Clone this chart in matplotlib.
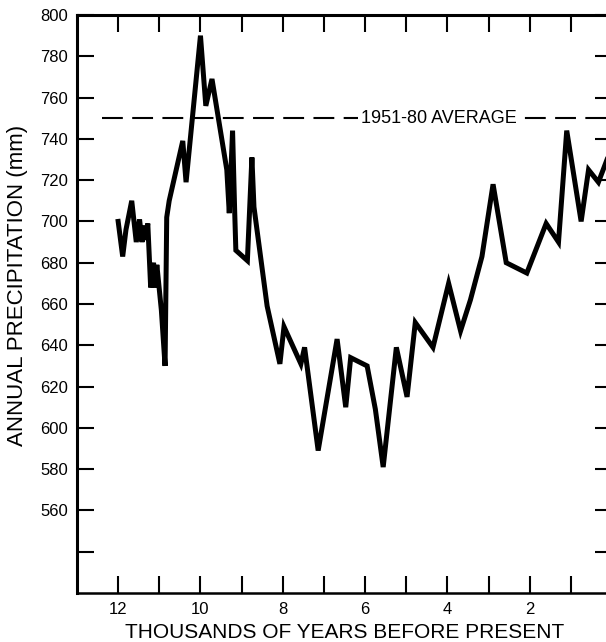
"""
Holocene annual precipitation reconstruction
"""

#---------------------------------------------------------------------------------------------------
# Import Modules
#---------------------------------------------------------------------------------------------------

import matplotlib
matplotlib.use('Agg')
import matplotlib.pyplot as plt


#---------------------------------------------------------------------------------------------------
# Input Parameters
#---------------------------------------------------------------------------------------------------

# Thousands of years before present
kyr_bp = [12.00, 11.89, 11.81, 11.67, 11.56, 11.48, 11.42, 11.37, 11.33, 11.28,
          11.21, 11.14, 11.10, 11.06, 10.95, 10.86, 10.82, 10.76, 10.43, 10.35,
          10.00, 9.87, 9.72, 9.36, 9.30, 9.22, 9.17, 9.14, 8.86, 8.75,
          8.70, 8.38, 8.07, 7.97, 7.56, 7.47, 7.14, 6.68, 6.47, 6.35,
          5.95, 5.75, 5.56, 5.24, 4.98, 4.78, 4.35, 3.97, 3.68, 3.44,
          3.16, 2.89, 2.57, 2.07, 1.60, 1.30, 1.10, 0.75, 0.57, 0.33,
          0.12]

# Annual precipitation (mm)
precip = [700, 683, 696, 710, 690, 701, 690, 698, 691, 699,
          668, 680, 668, 679, 657, 630, 702, 710, 739, 719,
          790, 756, 769, 725, 704, 744, 706, 686, 681, 731,
          707, 659, 631, 649, 631, 639, 589, 643, 610, 634,
          630, 609, 581, 639, 615, 651, 639, 670, 647, 662,
          683, 718, 680, 675, 699, 690, 744, 700, 725, 719,
          730]

# 1951-80 average
avg_precip = 750
avg_start = 12.4
avg_label = '1951-80 AVERAGE'
avg_label_x = 4.2

# Ticks
xticks = list(range(1, 13))
xticklabels = ['', '2', '', '4', '', '6', '', '8', '', '10', '', '12']
yticks = list(range(540, 801, 20))
yticklabels = [''] + [str(v) for v in range(560, 801, 20)]

out_fname = 'out.png'


#---------------------------------------------------------------------------------------------------
# Main Program
#---------------------------------------------------------------------------------------------------

plt.rcParams['font.family'] = ['Liberation Sans', 'DejaVu Sans']

fig = plt.figure(figsize=(6.06, 6.42), dpi=100)
ax = fig.add_axes([77/606, 1 - 593/642, (612 - 77)/606, (593 - 15)/642])

# Average line with label breaking the dashes
ax.plot([avg_start, 0], [avg_precip, avg_precip], color='k', lw=1.5, dashes=(10, 4.5))
ax.text(avg_label_x, avg_precip, avg_label, ha='center', va='center', fontsize=13,
        bbox=dict(facecolor='white', edgecolor='none', pad=2.5))

# Precipitation curve
ax.plot(kyr_bp, precip, color='k', lw=3.6, solid_joinstyle='miter')

ax.set_xlim([13, 0])
ax.set_ylim([520, 800])

ax.set_xticks(xticks)
ax.set_xticklabels(xticklabels)
ax.set_yticks(yticks)
ax.set_yticklabels(yticklabels)
ax.tick_params(which='both', direction='in', top=True, right=True, length=12.5, width=1.5,
               labelsize=12, pad=6.5)

for side in ['left', 'top']:
    ax.spines[side].set_linewidth(2.2)
for side in ['bottom', 'right']:
    ax.spines[side].set_linewidth(1.8)

fig.text(345/606, 1 - 632/642, 'THOUSANDS OF YEARS BEFORE PRESENT', ha='center', va='center',
         fontsize=15)
fig.text(18/606, 1 - 285/642, 'ANNUAL PRECIPITATION (mm)', ha='center', va='center',
         rotation=90, fontsize=16)

plt.savefig(out_fname, dpi=100)
plt.close()
